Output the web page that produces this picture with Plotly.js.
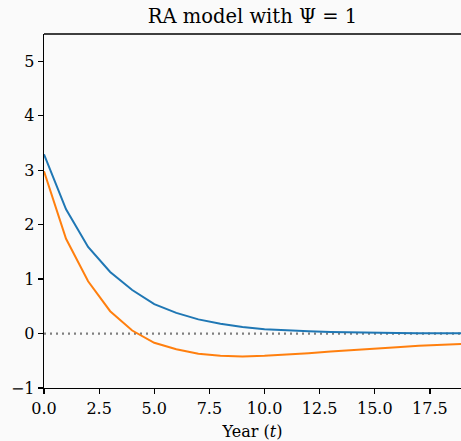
<!DOCTYPE html>
<html>
<head>
<meta charset="utf-8">
<script src="https://cdn.plot.ly/plotly-3.0.1.min.js"></script>
<style>html,body{margin:0;padding:0;background:#fafafa;}#chart{width:461px;height:441px;}</style>
</head>
<body>
<div id="chart"></div>
<script>
const years = [0,1,2,3,4,5,6,7,8,9,10,11,12,13,14,15,16,17,18,19,20];
const seriesBlue = [3.29,2.28,1.59,1.13,0.80,0.54,0.38,0.26,0.18,0.12,0.08,0.055,0.04,0.027,0.018,0.012,0.008,0.006,0.004,0.003,0.002];
const seriesOrange = [2.98,1.74,0.96,0.41,0.055,-0.17,-0.29,-0.37,-0.41,-0.42,-0.41,-0.39,-0.36,-0.33,-0.3,-0.275,-0.25,-0.225,-0.205,-0.185,-0.17];
const zeroLine = [0, 0];
const zeroX = [0, 20];
const xTicks = [0,2.5,5,7.5,10,12.5,15,17.5];
const xTickText = ["0.0","2.5","5.0","7.5","10.0","12.5","15.0","17.5"];
const yTicks = [-1,0,1,2,3,4,5];

const font = {family: "DejaVu Serif", color: "#000"};
const traces = [
  {x: zeroX, y: zeroLine, mode: "lines", line: {color: "#7f7f7f", width: 2.2, dash: "2px,4px"}, hoverinfo: "skip"},
  {x: years, y: seriesBlue, mode: "lines", line: {color: "#1f77b4", width: 2}},
  {x: years, y: seriesOrange, mode: "lines", line: {color: "#ff7f0e", width: 2}}
];
const layout = {
  width: 461, height: 441,
  paper_bgcolor: "#fafafa", plot_bgcolor: "#fafafa",
  showlegend: false,
  margin: {l: 44, r: 0, t: 34, b: 53},
  font: Object.assign({size: 16}, font),
  title: {text: "RA model with Ψ = 1", font: Object.assign({size: 19.5}, font), x: 0.5, xref: "paper", y: 1 - 16/441, yref: "container", yanchor: "middle"},
  xaxis: {
    range: [0, 18.91], tickvals: xTicks, ticktext: xTickText,
    showgrid: false, zeroline: false,
    showline: true, linecolor: "#000", linewidth: 1.3,
    ticks: "outside", ticklen: 5, tickwidth: 1.2, tickcolor: "#000",
    tickfont: Object.assign({size: 16}, font),
    title: {text: "Year (<i>t</i>)", font: Object.assign({size: 16}, font), standoff: 9}
  },
  yaxis: {
    range: [-1, 5.5], tickvals: yTicks,
    showgrid: false, zeroline: false,
    showline: true, linecolor: "#000", linewidth: 1.3,
    ticks: "outside", ticklen: 5, tickwidth: 1.2, tickcolor: "#000",
    tickfont: Object.assign({size: 16}, font)
  },
  shapes: [
    {type: "line", xref: "paper", yref: "paper", x0: 0, x1: 1, y0: 1, y1: 1, line: {color: "#000", width: 1.3}}
  ]
};
Plotly.newPlot("chart", traces, layout, {displayModeBar: false, staticPlot: true});
</script>
</body>
</html>
